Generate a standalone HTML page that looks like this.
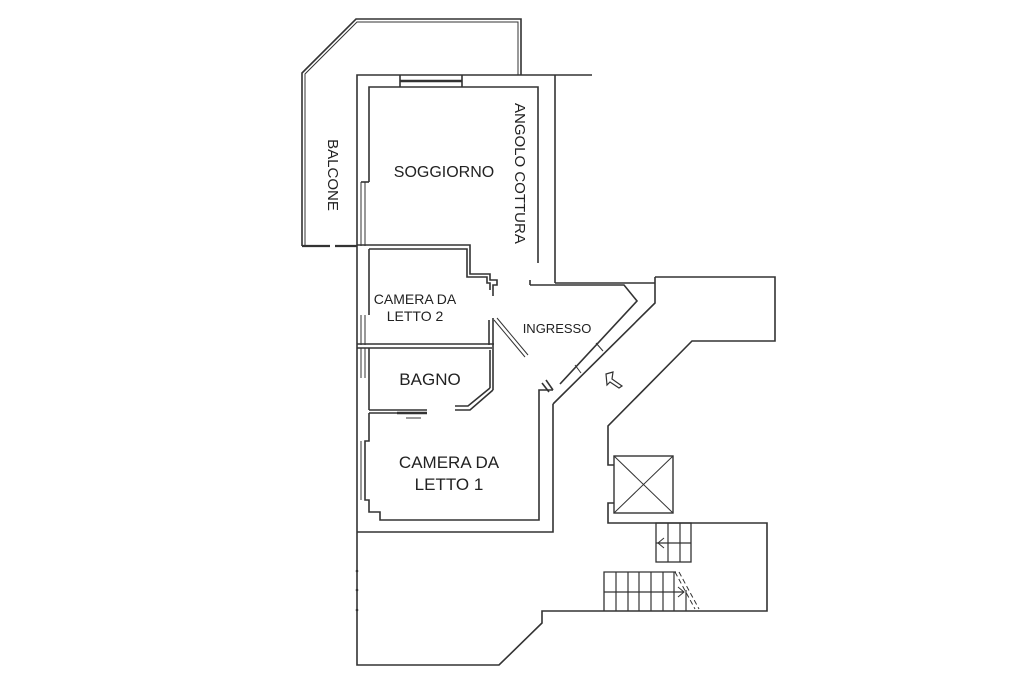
<!DOCTYPE html>
<html><head><meta charset="utf-8"><style>
html,body{margin:0;padding:0;background:#fff;}
svg{display:block}
text{font-family:"Liberation Sans",sans-serif;fill:#222;}
</style></head><body>
<svg width="1024" height="683" viewBox="0 0 1024 683" xmlns="http://www.w3.org/2000/svg">
<g fill="none" stroke="#333" stroke-width="1.6" stroke-linejoin="miter">
<!-- balcony double line -->
<polyline points="302,246 302,73 356,19 521,19 521,75"/>
<polyline points="305,246 305,74 357,22 518,22 518,75" stroke-width="1"/>
<line x1="302" y1="246" x2="330" y2="246" stroke-width="2.2"/>
<line x1="335" y1="246" x2="357" y2="246" stroke-width="2.2"/>
<!-- outer top -->
<polyline points="357,532 357,75 592,75"/>
<line x1="555" y1="75" x2="555" y2="283"/>
<polyline points="555,283 655,283"/>
<!-- inner top/soggiorno -->
<polyline points="369,182 369,87 538,87 538,263"/>
<line x1="361" y1="182" x2="369" y2="182"/>
<line x1="361" y1="182" x2="361" y2="246" stroke-width="1"/>
<line x1="365" y1="182" x2="365" y2="246" stroke-width="1"/>
<!-- window top -->
<line x1="400" y1="75" x2="400" y2="87"/><line x1="462" y1="75" x2="462" y2="87"/>
<line x1="400" y1="81" x2="462" y2="81" stroke-width="2.5"/>
<!-- camera 2 -->
<polyline points="357,245 470,245 470,274 490,274 490,280 497,280 497,285 493,285 493,296"/>
<polyline points="369,249 467,249 467,277 487,277 487,283 490,283 490,290"/>
<line x1="369" y1="249" x2="369" y2="315"/>
<line x1="361" y1="315" x2="361" y2="345" stroke-width="1"/>
<line x1="365" y1="315" x2="365" y2="345" stroke-width="1"/>
<!-- divider camera2 / bagno -->
<line x1="357" y1="344" x2="494" y2="344"/>
<line x1="357" y1="348" x2="492" y2="348"/>
<!-- door jambs -->
<line x1="489" y1="320" x2="489" y2="345"/>
<line x1="493" y1="318" x2="493" y2="390"/>
<line x1="490" y1="350" x2="490" y2="388"/>
<line x1="494" y1="320" x2="525" y2="357" stroke-width="1"/>
<line x1="497" y1="318" x2="528" y2="355" stroke-width="1"/>
<polyline points="493,390 470,410 455,410"/>
<polyline points="490,388 468,406 455,406"/>
<line x1="369" y1="348" x2="369" y2="410"/>
<line x1="361" y1="348" x2="361" y2="378" stroke-width="1"/>
<line x1="365" y1="348" x2="365" y2="378" stroke-width="1"/>
<!-- bagno bottom -->
<polyline points="369,410 427,410"/>
<polyline points="369,413 400,413"/>
<line x1="397" y1="413" x2="427" y2="413" stroke-width="2.5"/>
<line x1="406" y1="418" x2="421" y2="418" stroke-width="1"/>
<!-- camera 1 -->
<polyline points="369,413 369,441 365,441 365,500 369,500 369,512 380,512 380,520 539,520 539,390 553,390"/>
<line x1="361" y1="441" x2="361" y2="500" stroke-width="1"/>
<polyline points="357,532 553,532 553,404"/>
<!-- kitchen line -->
<line x1="530" y1="280" x2="530" y2="285"/>
<polyline points="530,285 624,285 637,301 560,384"/>
<polyline points="655,277 655,303 553,404"/>
<line x1="546" y1="380" x2="553" y2="390"/>
<line x1="542" y1="383" x2="549" y2="392"/>
<line x1="596" y1="343" x2="603" y2="351" stroke-width="1"/>
<line x1="575" y1="365" x2="581" y2="373" stroke-width="1"/>
<!-- right structure -->
<polyline points="655,277 775,277 775,341 692,341 608,426 608,465 614,465"/>
<polyline points="614,503 608,503 608,523 767,523 767,611 542,611 542,623 499,665 357,665 357,532"/>
<rect x="614" y="456" width="59" height="57" stroke-width="1.4"/>
<line x1="614" y1="456" x2="673" y2="513" stroke-width="1"/>
<line x1="673" y1="456" x2="614" y2="513" stroke-width="1"/>
<!-- small stairs -->
<rect x="656" y="523" width="35" height="39" stroke-width="1.3"/>
<line x1="668" y1="523" x2="668" y2="562" stroke-width="1.2"/>
<line x1="680" y1="523" x2="680" y2="562" stroke-width="1.2"/>
<line x1="656" y1="543" x2="691" y2="543" stroke-width="1.2"/>
<polyline points="664,538 658,543 664,548" stroke-width="1"/>
<!-- large stairs -->
<polyline points="604,611 604,572 676,572" stroke-width="1.3"/>
<g stroke-width="1.2">
<line x1="616" y1="572" x2="616" y2="611"/><line x1="628" y1="572" x2="628" y2="611"/>
<line x1="639" y1="572" x2="639" y2="611"/><line x1="651" y1="572" x2="651" y2="611"/>
<line x1="663" y1="572" x2="663" y2="611"/><line x1="674" y1="572" x2="674" y2="611"/>
<line x1="686" y1="590" x2="686" y2="611"/>
<line x1="604" y1="592" x2="684" y2="592"/>
</g>
<polyline points="678,587 684,592 678,597" stroke-width="1"/>
<line x1="675" y1="572" x2="695" y2="609" stroke-width="1" stroke-dasharray="5,3"/>
<line x1="679" y1="572" x2="699" y2="609" stroke-width="1" stroke-dasharray="5,3"/>
<!-- entry arrow -->
<path d="M606,374 L613,372 L612,379 L622,386 L619,388 L610,382 L607,385 Z" stroke-width="1.2"/>
</g>
<!-- dots -->
<g fill="#333"><circle cx="357" cy="571" r="1.3"/><circle cx="357" cy="590" r="1.3"/><circle cx="357" cy="610" r="1.3"/></g>
<!-- labels -->
<text x="444" y="177" font-size="16" text-anchor="middle">SOGGIORNO</text>
<text transform="translate(328,154) rotate(90)" font-size="15" text-anchor="middle" x="21" y="0">BALCONE</text>
<text transform="translate(515,103) rotate(90)" font-size="15" x="0" y="0">ANGOLO COTTURA</text>
<text x="415" y="304" font-size="14" text-anchor="middle">CAMERA DA</text>
<text x="415" y="321" font-size="14" text-anchor="middle">LETTO 2</text>
<text x="557" y="333" font-size="13" text-anchor="middle">INGRESSO</text>
<text x="430" y="385" font-size="17" text-anchor="middle">BAGNO</text>
<text x="449" y="468" font-size="17" text-anchor="middle">CAMERA DA</text>
<text x="449" y="490" font-size="17" text-anchor="middle">LETTO 1</text>
</svg>
</body></html>
